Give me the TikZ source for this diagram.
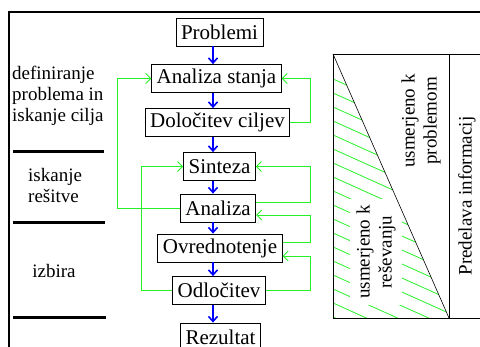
\documentclass[tikz,border=0pt]{standalone}
\usepackage{fontspec}
\setmainfont{Liberation Serif}
\usetikzlibrary{arrows.meta}
\definecolor{loopgreen}{RGB}{40,240,40}
\definecolor{flowblue}{RGB}{0,0,255}
\tikzset{
  box/.style={draw,line width=0.8pt,minimum height=28pt,inner xsep=5pt,inner ysep=0pt,
    font=\fontsize{21}{24}\selectfont},
  flow/.style={line width=1.6pt,flowblue,-{Straight Barb[length=5pt,width=9pt]}},
  feedback/.style={line width=0.9pt,loopgreen,-{Straight Barb[length=5pt,width=10pt]}},
  phase/.style={font=\fontsize{19}{21}\selectfont,align=left,inner sep=0pt},
  rule/.style={line width=3pt},
  hatch/.style={line width=0.8pt,loopgreen},
  vlabel/.style={rotate=90,font=\fontsize{19}{22}\selectfont,align=center,inner sep=0pt}
}
\begin{document}
\begin{tikzpicture}[x=1pt,y=-1pt]
\useasboundingbox (0,0) rectangle (480,347);
% frame
\draw[line width=2pt] (9,347) -- (9,12) -- (481,12);
% phases
\node[phase,anchor=west] (definiranje) at (12,96) {definiranje\\problema in\\iskanje cilja};
\draw[rule] (13,152) -- (104,152);
\node[phase,anchor=west] (iskanje) at (28,186) {iskanje\\rešitve};
\draw[rule] (13,223) -- (105,223);
\node[phase] (izbira) at (54,271) {izbira};
\draw[rule] (13,318) -- (106,318);
% boxes
\node[box] (problemi)    at (219.5, 32.0) {Problemi};
\node[box] (stanje)      at (216.5, 78.5) {Analiza stanja};
\node[box] (cilji)       at (217.5,122.5) {Določitev ciljev};
\node[box] (sinteza)     at (219.5,166.5) {Sinteza};
\node[box] (analiza)     at (218.0,208.0) {Analiza};
\node[box] (vrednotenje) at (220.0,248.0) {Ovrednotenje};
\node[box] (odlocitev)   at (219.0,290.5) {Odločitev};
\node[box] (rezultat)    at (220.5,337.0) {Rezultat};
% coordinates
\coordinate (spine)      at (213,0);
\coordinate (outerleft)  at (117,0);
\coordinate (innerleft)  at (141,0);
\coordinate (right)      at (310,0);
\coordinate (analizaout) at ([yshift=6pt]analiza.east);
\coordinate (analizain)  at ([yshift=-7pt]analiza.east);
\coordinate (vrednout)   at ([yshift=6pt]vrednotenje.east);
\coordinate (vrednin)    at ([yshift=-8pt]vrednotenje.east);
% main flow
\foreach \a/\b in {problemi/stanje,stanje/cilji,cilji/sinteza,sinteza/analiza,
                   analiza/vrednotenje,vrednotenje/odlocitev,odlocitev/rezultat}
  \draw[flow] (\a.south -| spine) -- (\b.north -| spine);
% feedback loops
\draw[feedback] (analiza.west) -- (analiza.west -| outerleft) -- (stanje.west -| outerleft) -- (stanje.west);
\draw[feedback] (odlocitev.west) -- (odlocitev.west -| innerleft) -- (sinteza.west -| innerleft) -- (sinteza.west);
\draw[feedback] (cilji.east) -- (cilji.east -| right) -- (stanje.east -| right) -- (stanje.east);
\draw[feedback] (analizaout) -- (analizaout -| right) -- (sinteza.east -| right) -- (sinteza.east);
\draw[feedback] (vrednout) -- (vrednout -| right) -- (analizain -| right) -- (analizain);
\draw[feedback] (odlocitev.east) -- (odlocitev.east -| right) -- (vrednin -| right) -- (vrednin);
% information panel
\begin{scope}
  \clip (333,54) -- (333,318) -- (449,318) -- cycle;
  \foreach \k in {0,...,17}
    \draw[hatch] (333,79+14*\k) -- ++(130,58.5);
\end{scope}
\node[vlabel,fill=white,inner sep=6pt] (resevanju) at (376,252) {usmerjeno k\\reševanju};
\draw[line width=0.8pt] (481,54) -- (333,54) -- (333,318) -- (481,318);
\draw[line width=0.8pt] (449,54) -- (449,318);
\draw[line width=0.6pt] (333,54) -- (449,318);
\node[vlabel] (problemom) at (421,121) {usmerjeno k\\problemom};
\node[vlabel] (predelava) at (467,196) {Predelava informacij};
\end{tikzpicture}
\end{document}
